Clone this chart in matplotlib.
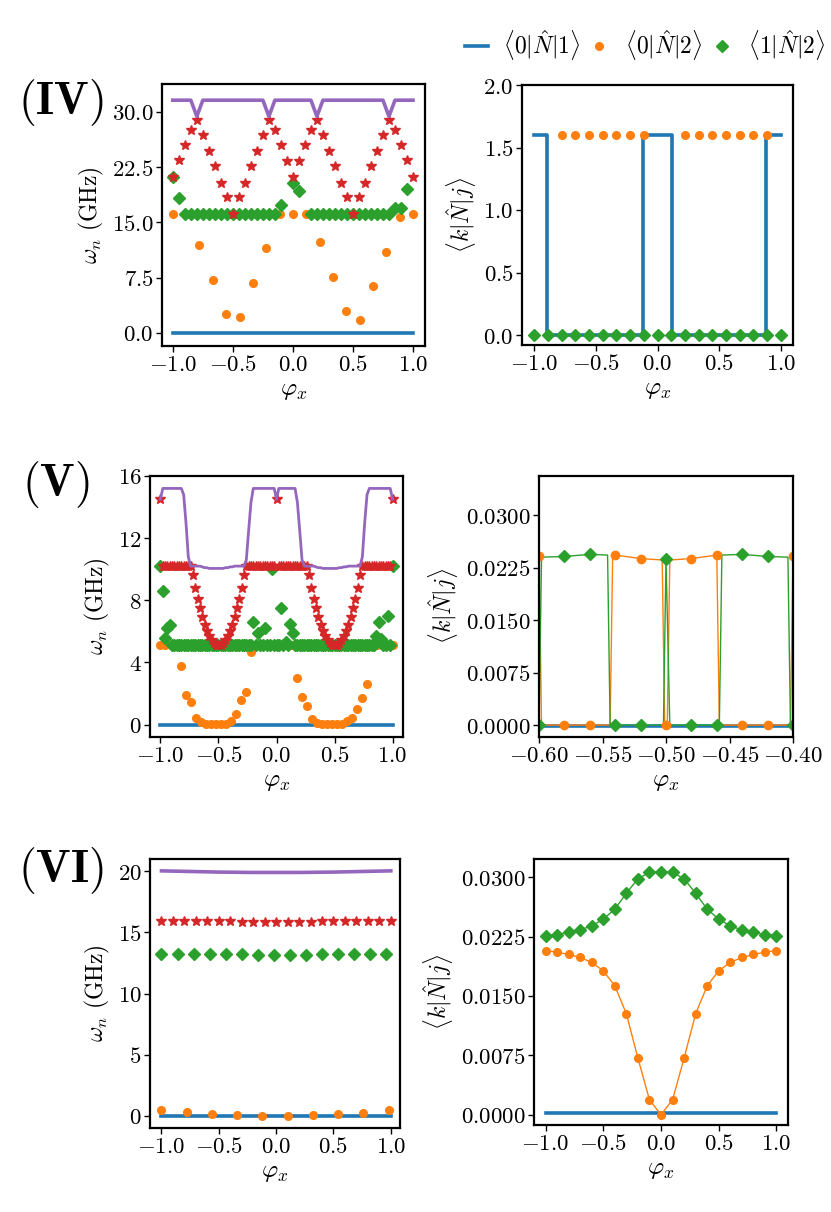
import numpy as np
import matplotlib
matplotlib.use("Agg")
import matplotlib.pyplot as plt
from matplotlib.ticker import FuncFormatter, FixedLocator
from matplotlib.lines import Line2D

plt.rcParams['mathtext.fontset'] = 'cm'
plt.rcParams['font.family'] = ['DejaVu Serif']

# ---------------- Panel IV (left) ----------------
iv_x41 = np.linspace(-1, 1, 41)
iv_x19 = np.linspace(-1, 1, 19)
iv_purple = [31.6, 31.6, 31.6, 31.6, 29.4, 31.6, 31.6, 31.6, 31.6, 31.6,
             31.6, 31.6, 31.6, 31.6, 31.6, 31.6, 29.4, 31.6, 31.6, 31.6,
             31.6, 31.6, 31.6, 31.6, 29.4, 31.6, 31.6, 31.6, 31.6, 31.6,
             31.6, 31.6, 31.6, 31.6, 31.6, 31.6, 29.4, 31.6, 31.6, 31.6, 31.6]
iv_red = [21.2, 23.5, 25.5, 27.6, 28.9, 26.9, 24.7, 22.6, 20.4, 18.4,
          16.2, 18.4, 20.4, 22.6, 24.7, 26.9, 28.9, 27.6, 25.5, 23.4,
          21.2, 23.4, 25.5, 27.6, 28.9, 26.9, 24.7, 22.6, 20.4, 18.4,
          16.2, 18.4, 20.4, 22.6, 24.7, 26.9, 28.9, 27.6, 25.5, 23.5, 21.2]
iv_green = [21.2, 18.3, 16.1, 16.1, 16.1, 16.1, 16.1, 16.1, 16.1, 16.1,
            16.1, 16.1, 16.1, 16.1, 16.1, 16.1, 16.1, 16.1, 17.4, np.nan,
            20.4, 19.2, np.nan, 16.1, 16.1, 16.1, 16.1, 16.1, 16.1, 16.1,
            16.1, 16.1, 16.1, 16.1, 16.1, 16.1, 16.1, 16.9, 16.9, 19.5, np.nan]
iv_orange = [16.1, 16.1, 11.9, 7.2, 2.5, 2.1, 6.8, 11.5, 16.1, 16.1,
             16.1, 12.3, 7.6, 3.0, 1.7, 6.4, 11.0, 15.7, 16.1]
iv_blue = [0.0] * 41

# ---------------- Panel IV (right) ----------------
ivr_blue_x = [-1.0, -0.9, -0.9, -0.12, -0.12, 0.12, 0.12, 0.88, 0.88, 1.0]
ivr_blue_y = [1.6, 1.6, 0.0, 0.0, 1.6, 1.6, 0.0, 0.0, 1.6, 1.6]
ivr_orange = [0, 0, 1.6, 1.6, 1.6, 1.6, 1.6, 1.6, 1.6, 0,
              0, 1.6, 1.6, 1.6, 1.6, 1.6, 1.6, 1.6, 0]
ivr_green = [0.0] * 19

# ---------------- Panel V (left) ----------------
v_x101 = np.linspace(-1, 1, 101)
v_x47 = np.linspace(-1, 1, 47)
v_par = [9.6, 8.8, 8.1, 7.5, 6.9, 6.4, 6.0, 5.7, 5.45, 5.25, 5.15, 5.1,
         5.15, 5.25, 5.45, 5.7, 6.0, 6.4, 6.9, 7.5, 8.1, 8.8, 9.6]
v_red = ([14.5] + [10.2] * 13 + v_par + [10.2] * 13 + [14.5]
         + [10.2] * 13 + v_par + [10.2] * 13 + [14.5])
v_purple = ([14.5] + [15.2] * 9 + [14.8, 13.0, 10.8]
            + [10.2, 10.2, 10.2, 10.2, 10.2, 10.15, 10.1, 10.1, 10.05, 10.05, 10.05, 10.05,
               10.05, 10.05, 10.05, 10.1, 10.1, 10.15, 10.15, 10.2, 10.2, 10.2, 10.2, 10.2]
            + [10.6, 12.5, 14.3] + [15.2] * 10 + [14.5] + [15.2] * 8
            + [14.3, 12.5, 10.6]
            + [10.2, 10.2, 10.2, 10.2, 10.2, 10.15, 10.1, 10.1, 10.05, 10.05, 10.05, 10.05,
               10.05, 10.05, 10.05, 10.1, 10.1, 10.15, 10.15, 10.2, 10.2, 10.2, 10.2, 10.2, 10.2]
            + [10.8, 13.0, 14.8] + [15.2] * 10 + [14.5])
v_green = [5.1] * 101
for i, val in [(0, 10.2), (1, 8.6), (2, 5.6), (3, 6.2), (4, 6.4), (40, 6.6), (42, 5.9),
               (45, 6.2), (48, 10.0), (52, 7.5), (54, 5.3), (56, 6.5), (57, 5.9),
               (93, 5.7), (94, 6.6), (95, 5.5), (98, 7.0), (100, 10.2)]:
    v_green[i] = val
v_orange = ([5.1] * 4 + [3.8, 1.9, 1.45, 0.45, 0.18, 0.05, 0.05, 0.05, 0.05, 0.05,
                         0.25, 0.7, 1.6, 2.1, 4.7]
            + [5.1] * 8 + [3.0, 1.8, 1.2, 0.33, 0.12, 0.05, 0.05, 0.05, 0.05, 0.05,
                           0.2, 0.4, 1.0, 1.7, 2.6] + [5.1] * 5)
v_blue = [0.0] * 101

# ---------------- Panel V (right) ----------------
vr_mx = np.linspace(-0.6, -0.4, 11)
vr_orange_m = [0.0241, 0, 0, 0.0243, 0.0238, 0, 0.0238, 0.0243, 0, 0, 0.0241]
vr_green_m = [0, 0.0241, 0.0244, 0, 0, 0.0238, 0, 0, 0.0244, 0.0241, 0]
vr_orange_lx = [-0.6, -0.598, -0.544, -0.542, -0.54, -0.52, -0.503, -0.501, -0.499,
                -0.497, -0.48, -0.46, -0.458, -0.402, -0.4]
vr_orange_ly = [0.0241, 0, 0, 0.0243, 0.0243, 0.0238, 0.0236, 0, 0,
                0.0236, 0.0238, 0.0243, 0, 0, 0.0241]
vr_green_lx = [-0.6, -0.598, -0.58, -0.56, -0.546, -0.544, -0.502, -0.5, -0.497,
               -0.458, -0.456, -0.44, -0.42, -0.404, -0.402, -0.4]
vr_green_ly = [0, 0.0240, 0.0241, 0.0244, 0.0243, 0, 0, 0.0238, 0,
               0, 0.0243, 0.0244, 0.0241, 0.0240, 0, 0]
vr_blue_x = [-0.6, -0.4]
vr_blue_y = [-0.0001, -0.0001]

# ---------------- Panel VI (left) ----------------
vi_x21 = np.linspace(-1, 1, 21)
vi_x15 = np.linspace(-1, 0.96, 15)
vi_x10 = np.linspace(-1, 0.98, 10)
vi_purple = [20.03, 20.01, 19.99, 19.97, 19.95, 19.93, 19.92, 19.91, 19.9, 19.9, 19.9,
             19.9, 19.9, 19.91, 19.92, 19.93, 19.95, 19.97, 19.99, 20.01, 20.03]
vi_red = [15.95, 15.94, 15.93, 15.92, 15.91, 15.9, 15.89, 15.88, 15.87, 15.86, 15.86,
          15.86, 15.87, 15.88, 15.89, 15.9, 15.91, 15.92, 15.93, 15.94, 15.95]
vi_green = [13.25, 13.24, 13.23, 13.22, 13.2, 13.19, 13.18, 13.17, 13.17, 13.18,
            13.19, 13.2, 13.22, 13.24, 13.25]
vi_orange = [0.49, 0.27, 0.14, 0.03, 0.0, 0.0, 0.03, 0.11, 0.25, 0.48]
vi_blue = [0.0] * 21

# ---------------- Panel VI (right) ----------------
vir_orange = [0.02074, 0.02053, 0.02024, 0.01986, 0.01923, 0.01818, 0.01628, 0.01275,
              0.00715, 0.00189, 0.0, 0.00189, 0.00715, 0.01275, 0.01628, 0.01818,
              0.01923, 0.01986, 0.02024, 0.02053, 0.02074]
vir_green = [0.02263, 0.02276, 0.02305, 0.02335, 0.02385, 0.0247, 0.02596, 0.02798,
             0.02979, 0.03063, 0.03071, 0.03063, 0.02979, 0.02798, 0.02596, 0.0247,
             0.02385, 0.02335, 0.02305, 0.02276, 0.02263]
vir_blue = [0.0002] * 21

# ---------------- Figure ----------------
W, H = 831, 1212
fig = plt.figure(figsize=(W / 100, H / 100), dpi=100)


def add_ax(l, r, t, b):
    return fig.add_axes([l / W, 1 - b / H, (r - l) / W, (b - t) / H])


def fmt(d):
    return FuncFormatter(lambda v, p: ('$%.' + str(d) + 'f$') % v)


def style(ax, xt, xd, yt, yd, xl, yl):
    ax.xaxis.set_major_locator(FixedLocator(xt))
    ax.yaxis.set_major_locator(FixedLocator(yt))
    ax.xaxis.set_major_formatter(fmt(xd))
    ax.yaxis.set_major_formatter(fmt(yd))
    ax.set_xlim(*xl)
    ax.set_ylim(*yl)
    ax.tick_params(labelsize=16.5, length=4, width=1, direction='out', pad=2)
    for s in ax.spines.values():
        s.set_linewidth(1.6)
    ax.set_xlabel(r'$\varphi_x$', fontsize=18, labelpad=2)


LW = 2.6
ms_dot, ms_star, ms_dia = 5.5, 7, 6
YL_W = r'$\omega_n\ \mathrm{(GHz)}$'
YL_N = r'$\langle k|\hat{N}|j\rangle$'

# IV left
a = add_ax(162, 425, 84, 346)
a.plot(iv_x41, iv_blue, color='C0', lw=LW)
a.plot(iv_x19, iv_orange, 'o', color='C1', ms=ms_dot, ls='none')
a.plot(iv_x41, iv_green, 'D', color='C2', ms=ms_dia, ls='none')
a.plot(iv_x41, iv_red, '*', color='C3', ms=ms_star, ls='none')
a.plot(iv_x41, iv_purple, color='C4', lw=LW)
style(a, [-1, -0.5, 0, 0.5, 1], 1, [0, 7.5, 15, 22.5, 30], 1, (-1.09, 1.1), (-1.8, 33.8))
a.set_ylabel(YL_W, fontsize=17)

# IV right
a = add_ax(522, 793, 85, 345)
a.plot(ivr_blue_x, ivr_blue_y, color='C0', lw=LW)
a.plot(iv_x19, ivr_orange, 'o', color='C1', ms=ms_dot, ls='none')
a.plot(iv_x19, ivr_green, 'D', color='C2', ms=ms_dia, ls='none')
style(a, [-1, -0.5, 0, 0.5, 1], 1, [0, 0.5, 1.0, 1.5, 2.0], 1, (-1.1, 1.1), (-0.08, 2.0))
a.set_ylabel(YL_N, fontsize=17)

# V left
a = add_ax(150, 403, 476, 737)
a.plot(v_x101, v_blue, color='C0', lw=LW)
a.plot(v_x47, v_orange, 'o', color='C1', ms=ms_dot, ls='none')
a.plot(v_x101, v_green, 'D', color='C2', ms=ms_dia, ls='none')
a.plot(v_x101, v_red, '*', color='C3', ms=ms_star, ls='none')
a.plot(v_x101, v_purple, color='C4', lw=LW - 0.6)
style(a, [-1, -0.5, 0, 0.5, 1], 1, [0, 4, 8, 12, 16], 0, (-1.09, 1.09), (-0.8, 16.0))
a.set_ylabel(YL_W, fontsize=17)

# V right
a = add_ax(539, 793, 476, 737)
a.plot(vr_blue_x, vr_blue_y, color='C0', lw=LW)
a.plot(vr_orange_lx, vr_orange_ly, color='C1', lw=1)
a.plot(vr_green_lx, vr_green_ly, color='C2', lw=1)
a.plot(vr_mx, vr_orange_m, 'o', color='C1', ms=ms_dot + 0.5, ls='none')
a.plot(vr_mx, vr_green_m, 'D', color='C2', ms=ms_dia, ls='none')
style(a, [-0.6, -0.55, -0.5, -0.45, -0.4], 2, [0, 0.0075, 0.015, 0.0225, 0.03], 4,
      (-0.6, -0.4), (-0.0017, 0.0356))
a.set_ylabel(YL_N, fontsize=17)

# VI left
a = add_ax(150, 400, 859, 1128)
a.plot(vi_x21, vi_blue, color='C0', lw=LW)
a.plot(vi_x10, vi_orange, 'o', color='C1', ms=ms_dot, ls='none')
a.plot(vi_x15, vi_green, 'D', color='C2', ms=ms_dia, ls='none')
a.plot(vi_x21, vi_red, '*', color='C3', ms=ms_star, ls='none')
a.plot(vi_x21, vi_purple, color='C4', lw=LW)
style(a, [-1, -0.5, 0, 0.5, 1], 1, [0, 5, 10, 15, 20], 0, (-1.1, 1.08), (-1.0, 21.0))
a.set_ylabel(YL_W, fontsize=17)

# VI right
a = add_ax(534, 788, 859, 1125)
a.plot(vi_x21, vir_blue, color='C0', lw=LW)
a.plot(vi_x21, vir_orange, 'o-', color='C1', ms=ms_dot, lw=1)
a.plot(vi_x21, vir_green, 'D-', color='C2', ms=ms_dia, lw=1)
style(a, [-1, -0.5, 0, 0.5, 1], 1, [0, 0.0075, 0.015, 0.0225, 0.03], 4,
      (-1.1, 1.1), (-0.0013, 0.0323))
a.set_ylabel(YL_N, fontsize=17)

# panel labels
for txt, x, y in [(r'$(\mathbf{IV})$', 18, 102), (r'$(\mathbf{V})$', 22, 485),
                  (r'$(\mathbf{VI})$', 18, 870)]:
    fig.text(x / W, 1 - y / H, txt, fontsize=33, va='center', ha='left')

# legend
handles = [Line2D([], [], color='C0', lw=LW),
           Line2D([], [], color='C1', marker='o', ls='none', ms=ms_dot),
           Line2D([], [], color='C2', marker='D', ls='none', ms=ms_dia)]
labels = [r'$\langle 0|\hat{N}|1\rangle$', r'$\langle 0|\hat{N}|2\rangle$',
          r'$\langle 1|\hat{N}|2\rangle$']
fig.legend(handles, labels, loc='center', bbox_to_anchor=(645 / W, 1 - 45 / H),
           ncol=3, frameon=False, fontsize=17, handlelength=1.0, handletextpad=0.6,
           columnspacing=0.3)

fig.savefig('out.png', dpi=100)
